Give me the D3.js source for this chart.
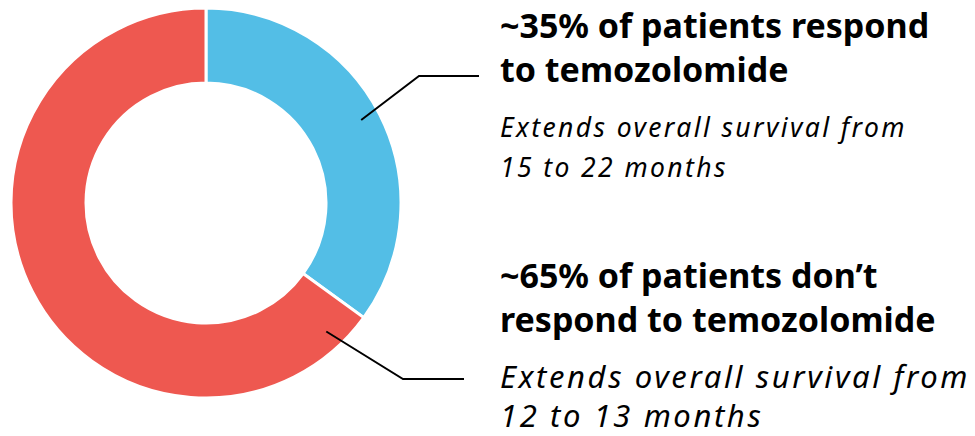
<!DOCTYPE html>
<html>
<head>
<meta charset="utf-8">
<script src="https://cdn.jsdelivr.net/npm/d3@7"></script>
<style>
    html, body { margin: 0; padding: 0; background: #fff; }
    svg { display: block; }
    text { font-family: "Noto Sans", "Open Sans", sans-serif; fill: #000; }
</style>
</head>
<body>
<div id="chart"></div>
<script>
(function() {"use strict";

    // Chart data
    var groups      = ["respond", "noRespond"];
    var shares      = [35, 65];                                     // % of patients
    var colors      = ["#53bee6", "#ee5850"];
    var headlines   = [
        ["~35% of patients respond", "to temozolomide"],
        ["~65% of patients don\u2019t", "respond to temozolomide"]
    ];
    var subtitles   = [
        ["Extends overall survival from", "15 to 22 months"],
        ["Extends overall survival from", "12 to 13 months"]
    ];

    var width = 975, height = 436;
    var cx = 206, cy = 203,
        outerR = 195, innerR = 120;

    var svg = d3.select("#chart").append("svg")
        .attr("width", width)
        .attr("height", height);

    var g = svg.append("g")
        .attr("transform", "translate(" + cx + "," + cy + ")");

    // pie, clockwise from 12 o'clock, no sorting
    var pie = d3.pie().sort(null).value(function(d) { return d; });
    var arcs = pie(shares);

    var arc = d3.arc().innerRadius(innerR).outerRadius(outerR);

    g.selectAll("path.slice").data(arcs).enter()
        .append("path")
        .attr("class", "slice")
        .attr("d", arc)
        .attr("fill", function(d, i) { return colors[i]; })
        .attr("stroke", "#fff")
        .attr("stroke-width", 3);

    // leader lines: anchor inside the ring, bend, then run right to the text
    var anchorR = outerR - 19;
    var anchorAngle = [
        function(a) { return (a.startAngle + a.endAngle) / 2 - 0.02; },
        function(a) { return a.startAngle + 0.19; }
    ];
    var bendX   = [419, 403],
        bendY   = [76, 379],
        endX    = [479, 464];

    arcs.forEach(function(a, i) {
        var ang = anchorAngle[i](a);
        var p0 = [cx + anchorR * Math.sin(ang), cy - anchorR * Math.cos(ang)];
        svg.append("path")
            .attr("d", d3.line()([p0, [bendX[i], bendY[i]], [endX[i], bendY[i]]]))
            .attr("fill", "none")
            .attr("stroke", "#000")
            .attr("stroke-width", 2);
    });

    // labels
    var textX = 500;
    var headBase = [38, 288], subBase = [137, 388];
    var subSize = [26.5, 31], subGap = [40, 39], subSpacing = [2.4, 2.6];

    groups.forEach(function(k, i) {
        headlines[i].forEach(function(line, j) {
            svg.append("text")
                .attr("x", textX)
                .attr("y", headBase[i] + j * 44)
                .attr("font-size", 34)
                .attr("font-weight", 700)
                .text(line);
        });
        subtitles[i].forEach(function(line, j) {
            svg.append("text")
                .attr("x", textX)
                .attr("y", subBase[i] + j * subGap[i])
                .attr("font-size", subSize[i])
                .attr("font-style", "italic")
                .attr("letter-spacing", subSpacing[i])
                .text(line);
        });
    });

})();
</script>
</body>
</html>
